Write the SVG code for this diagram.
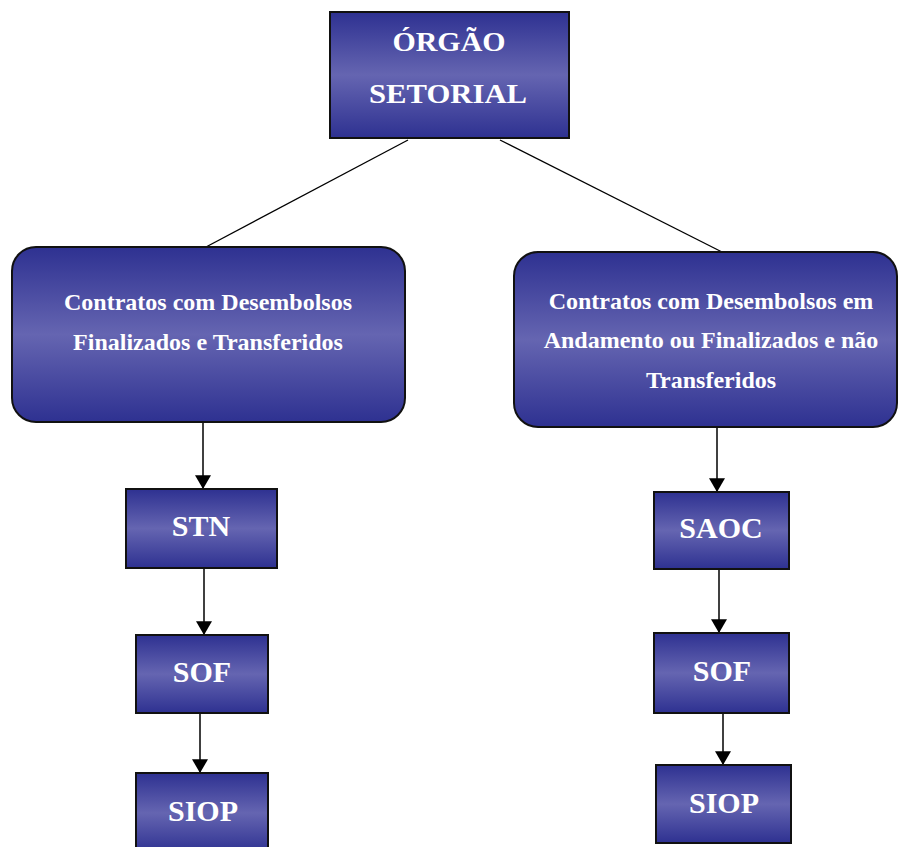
<svg xmlns="http://www.w3.org/2000/svg" width="898" height="847" viewBox="0 0 898 847">
<defs>
<linearGradient id="g" x1="0" y1="0" x2="0" y2="1">
<stop offset="0" stop-color="#2e3191"/>
<stop offset="0.5" stop-color="#6565b1"/>
<stop offset="1" stop-color="#2e3191"/>
</linearGradient>
<marker id="arr" markerUnits="userSpaceOnUse" markerWidth="14" markerHeight="16" refX="12" refY="7" orient="auto" viewBox="0 0 12 14">
<path d="M0,0 L12,7 L0,14 z" fill="#000"/>
</marker>
<style>
.box{fill:url(#g);stroke:#111;stroke-width:2}
.t{fill:#fff;font-family:"Liberation Serif","Times New Roman",serif;font-weight:bold;text-anchor:middle}
.top{font-size:28px}
.mid{font-size:24px}
.sm{font-size:30px}
.ln{stroke:#000;stroke-width:1.3;fill:none}
.ar{stroke:#000;stroke-width:1.5;fill:none;marker-end:url(#arr)}
</style>
</defs>
<rect width="898" height="847" fill="#fff"/>
<g id="connectors">
<line class="ln" x1="408" y1="140" x2="206" y2="247"/>
<line class="ln" x1="500" y1="140" x2="722" y2="252"/>
<line class="ar" x1="203" y1="422" x2="203" y2="489"/>
<line class="ar" x1="204" y1="568" x2="204" y2="635"/>
<line class="ar" x1="200" y1="713" x2="200" y2="773"/>
<line class="ar" x1="717" y1="427" x2="717" y2="492"/>
<line class="ar" x1="719" y1="569" x2="719" y2="633"/>
<line class="ar" x1="723" y1="713" x2="723" y2="765"/>
</g>
<g id="orgao">
<rect class="box" x="330" y="12" width="239" height="126"/>
<text class="t top" x="449" y="51" textLength="113" lengthAdjust="spacingAndGlyphs">ÓRGÃO</text>
<text class="t top" x="448" y="103" textLength="158" lengthAdjust="spacingAndGlyphs">SETORIAL</text>
</g>
<g id="finalizados">
<rect class="box" x="12" y="247" width="393" height="175" rx="24"/>
<text class="t mid" x="208" y="310">Contratos com Desembolsos</text>
<text class="t mid" x="208" y="350">Finalizados e Transferidos</text>
</g>
<g id="andamento">
<rect class="box" x="514" y="252" width="383" height="175" rx="24"/>
<text class="t mid" x="711" y="309">Contratos com Desembolsos em</text>
<text class="t mid" x="711" y="348">Andamento ou Finalizados e não</text>
<text class="t mid" x="711" y="388">Transferidos</text>
</g>
<g id="stn">
<rect class="box" x="126" y="489" width="151" height="79"/>
<text class="t sm" x="201" y="536">STN</text>
</g>
<g id="sof-left">
<rect class="box" x="136" y="635" width="132" height="78"/>
<text class="t sm" x="202" y="682">SOF</text>
</g>
<g id="siop-left">
<rect class="box" x="136" y="773" width="132" height="80"/>
<text class="t sm" x="203" y="821">SIOP</text>
</g>
<g id="saoc">
<rect class="box" x="654" y="492" width="135" height="77"/>
<text class="t sm" x="721" y="538">SAOC</text>
</g>
<g id="sof-right">
<rect class="box" x="654" y="633" width="135" height="80"/>
<text class="t sm" x="722" y="681">SOF</text>
</g>
<g id="siop-right">
<rect class="box" x="656" y="765" width="135" height="78"/>
<text class="t sm" x="724" y="813">SIOP</text>
</g>
</svg>
